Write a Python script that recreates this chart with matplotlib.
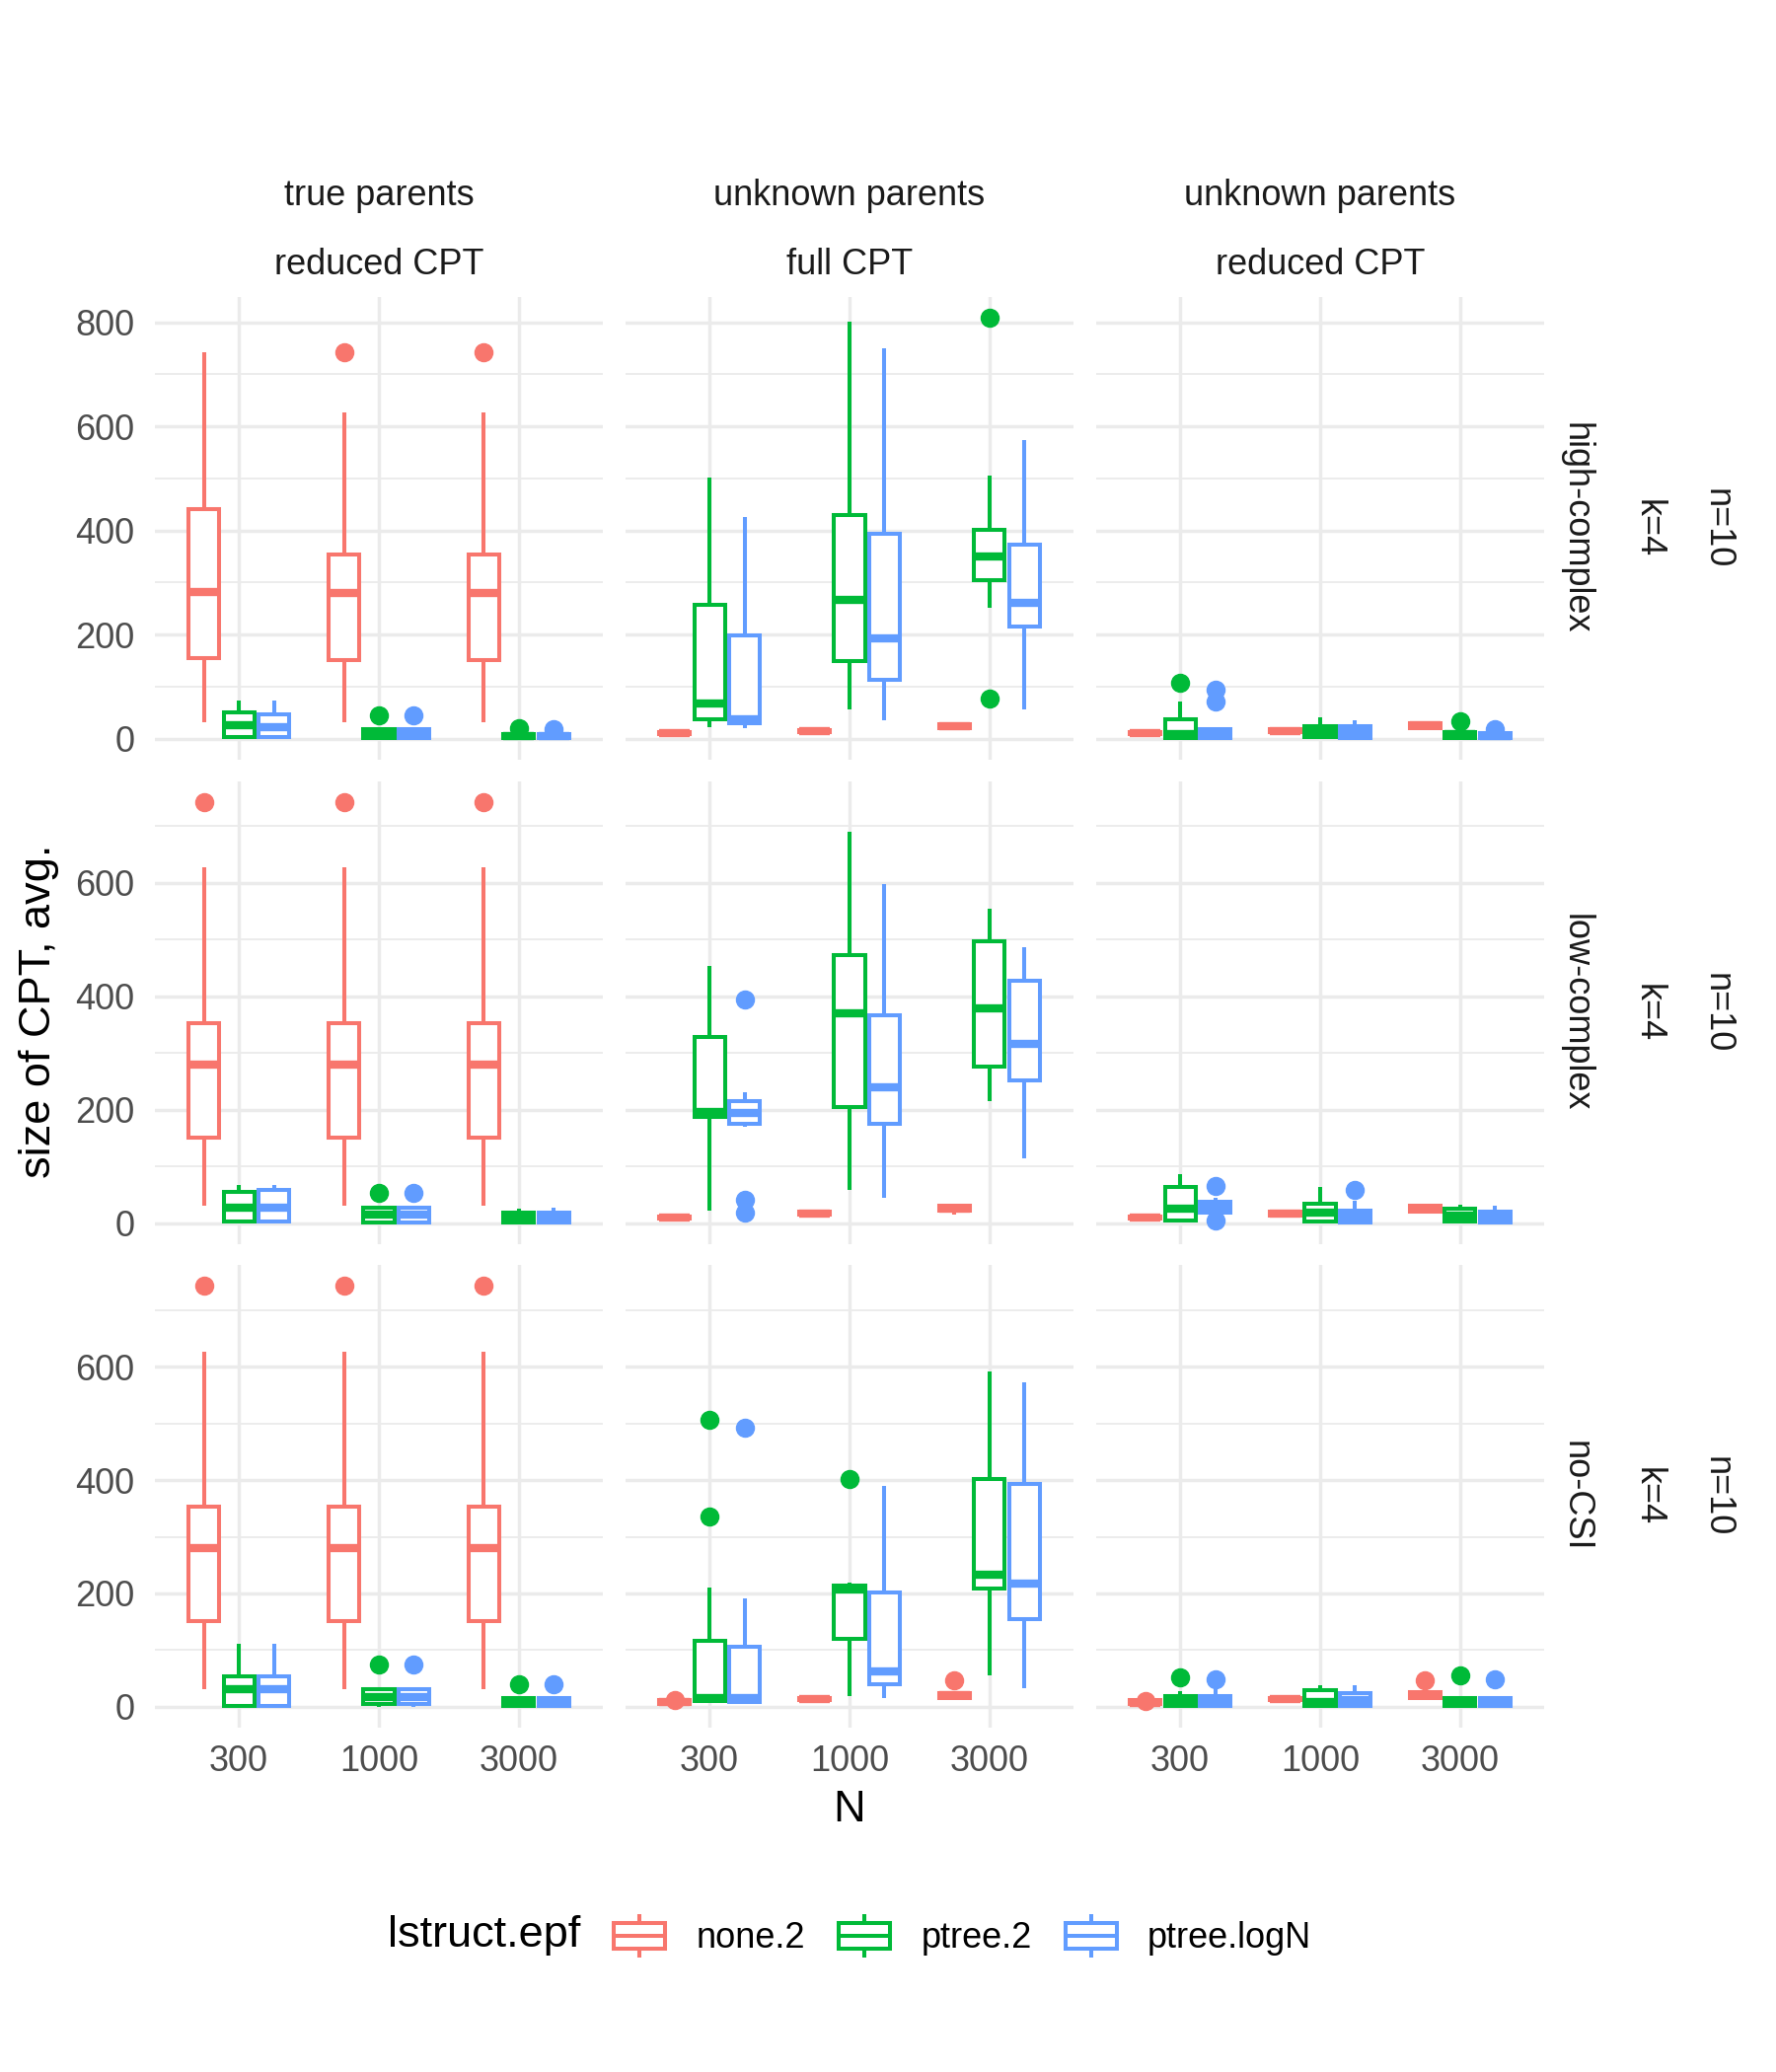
import numpy as np
import matplotlib.pyplot as plt
from matplotlib.legend_handler import HandlerBase
from matplotlib.patches import Patch, Rectangle
from matplotlib.lines import Line2D

plt.rcParams['font.family'] = ['Liberation Sans', 'DejaVu Sans']

# facet labels and categories
sizes = ['300', '1000', '3000']
groups = ['none.2', 'ptree.2', 'ptree.logN']
colors = ['#F8766D', '#00BA38', '#619CFF']
col_top = ['true parents', 'unknown parents', 'unknown parents']
col_bottom = ['reduced CPT', 'full CPT', 'reduced CPT']
row_labels = ['high-complex', 'low-complex', 'no-CSI']
row_k = ['k=4', 'k=4', 'k=4']
row_n = ['n=10', 'n=10', 'n=10']

# boxplot stats, indexed [row][col][N] -> (none.2, ptree.2, ptree.logN)
q1 = [
    [[[154, 4, 4], [151, 1, 1], [151, 1, 1]],
     [[8, 37, 29], [13, 149, 113], [21, 305, 215]],
     [[8, 2, 1], [13, 3, 2], [21, 2, 1]]],
    [[[151, 3, 3], [151, 2, 2], [151, 2, 2]],
     [[8, 188, 175], [15, 204, 175], [22, 277, 252]],
     [[8, 5, 19], [14, 3, 1], [21, 3, 1]]],
    [[[151, 2, 2], [151, 5, 5], [151, 1, 1]],
     [[5, 10, 9], [12, 119, 40], [16, 209, 155]],
     [[4, 1, 1], [12, 1, 1], [15, 2, 2]]],
]
med = [
    [[[282, 25, 23], [280, 8, 8], [280, 5, 5]],
     [[10, 68, 37], [15, 266, 193], [24, 350, 261]],
     [[10, 9, 8], [15, 12, 12], [25, 8, 5]]],
    [[[280, 28, 28], [280, 15, 15], [280, 10, 10]],
     [[10, 196, 195], [17, 370, 239], [26, 378, 316]],
     [[10, 25, 28], [16, 18, 12], [25, 14, 12]]],
    [[[280, 30, 30], [280, 17, 17], [280, 8, 8]],
     [[8, 15, 15], [14, 206, 62], [20, 233, 217]],
     [[7, 11, 11], [13, 8, 12], [20, 8, 8]]],
]
q3 = [
    [[[441, 50, 47], [353, 18, 18], [353, 9, 9]],
     [[12, 257, 198], [17, 429, 394], [28, 401, 372]],
     [[12, 37, 18], [18, 24, 24], [29, 12, 10]]],
    [[[353, 56, 58], [353, 28, 28], [353, 18, 18]],
     [[12, 329, 216], [20, 473, 367], [31, 497, 427]],
     [[12, 64, 38], [20, 34, 22], [30, 25, 20]]],
    [[[354, 53, 53], [354, 30, 30], [354, 15, 15]],
     [[11, 117, 105], [16, 214, 202], [24, 402, 393]],
     [[11, 19, 19], [16, 29, 24], [25, 15, 15]]],
]
whislo = [
    [[[32, 0, 0], [32, 0, 0], [32, 0, 0]],
     [[7, 23, 20], [12, 56, 35], [17, 252, 56]],
     [[7, 0, 0], [12, 0, 0], [18, 0, 0]]],
    [[[31, 0, 0], [31, 0, 0], [31, 0, 0]],
     [[7, 22, 170], [14, 59, 44], [15, 216, 114]],
     [[7, 2, 19], [12, 2, 0], [18, 2, 0]]],
    [[[31, 0, 0], [31, 0, 0], [31, 0, 0]],
     [[4, 10, 9], [11, 19, 15], [15, 56, 33]],
     [[3, 0, 0], [11, 0, 0], [12, 0, 0]]],
]
whishi = [
    [[[742, 73, 73], [626, 18, 18], [626, 10, 10]],
     [[13, 502, 425], [18, 801, 750], [29, 506, 574]],
     [[13, 72, 18], [19, 41, 36], [30, 12, 10]]],
    [[[627, 67, 67], [627, 30, 30], [627, 25, 27]],
     [[13, 453, 231], [21, 691, 598], [32, 554, 486]],
     [[13, 86, 45], [21, 64, 39], [31, 32, 30]]],
    [[[627, 111, 111], [627, 31, 31], [627, 16, 16]],
     [[12, 210, 192], [17, 219, 390], [25, 592, 572]],
     [[12, 27, 33], [17, 37, 37], [26, 19, 16]]],
]
fliers = [
    [[[[], [], []], [[742], [45], [45]], [[742], [20], [19]]],
     [[[], [], []], [[], [], []], [[], [808, 78], []]],
     [[[], [107], [94, 72]], [[], [], []], [[], [33], [19]]]],
    [[[[742], [], []], [[742], [54], [54]], [[742], [], []]],
     [[[], [], [395, 41, 18]], [[], [], []], [[], [], []]],
     [[[], [], [66, 4]], [[], [], [59]], [[], [], []]]],
    [[[[743], [], []], [[743], [75], [75]], [[743], [40], [40]]],
     [[[11], [506, 336], [492]], [[], [402], []], [[47], [], []]],
     [[[10], [51], [49]], [[], [], []], [[47], [56], [49]]]],
]

W, H = 1800, 2100
fig = plt.figure(figsize=(W / 100, H / 100), dpi=100)

panel_left = [157, 634, 1111]
panel_w = 454
panel_top = [301, 792, 1282]
panel_h = 469
grid_c = '#EBEBEB'
lw = 2.9


def fx(px):
    return px / W


def fy(py):
    return 1 - py / H


for r in range(3):
    # shared y range per row, 5% padding like ggplot
    vals = []
    for c in range(3):
        for i in range(3):
            for g in range(3):
                vals += [whislo[r][c][i][g], whishi[r][c][i][g]] + fliers[r][c][i][g]
    lo, hi = min(vals), max(vals)
    pad = 0.05 * (hi - lo)
    ytop = hi + pad

    for c in range(3):
        ax = fig.add_axes([fx(panel_left[c]), fy(panel_top[r] + panel_h),
                           fx(panel_w), panel_h / H])
        for g in range(3):
            stats = []
            for i in range(3):
                stats.append(dict(q1=q1[r][c][i][g], med=med[r][c][i][g],
                                  q3=q3[r][c][i][g], whislo=whislo[r][c][i][g],
                                  whishi=whishi[r][c][i][g],
                                  fliers=fliers[r][c][i][g]))
            col = colors[g]
            ax.bxp(stats, positions=np.arange(3) + (g - 1) * 0.25, widths=0.22,
                   showcaps=False, patch_artist=True, manage_ticks=False,
                   boxprops=dict(facecolor='white', edgecolor=col, linewidth=lw),
                   whiskerprops=dict(color=col, linewidth=lw, solid_capstyle='butt'),
                   medianprops=dict(color=col, linewidth=6, solid_capstyle='butt'),
                   flierprops=dict(marker='o', markerfacecolor=col,
                                   markeredgecolor=col, markersize=13,
                                   linestyle='none'))
        ax.set_xticks(range(3))
        ax.set_xticklabels(sizes)
        ax.set_yticks(np.arange(0, ytop, 200))
        ax.set_yticks(np.arange(100, ytop, 200), minor=True)
        ax.set_xlim(-0.6, 2.6)
        ax.set_ylim(lo - pad, ytop)
        ax.grid(which='major', color=grid_c, linewidth=2.5)
        ax.grid(which='minor', axis='y', color=grid_c, linewidth=1.3)
        ax.set_axisbelow(True)
        for s in ax.spines.values():
            s.set_visible(False)
        ax.tick_params(which='both', length=0, labelsize=26, labelcolor='#4D4D4D')
        ax.tick_params(axis='y', pad=15)
        ax.tick_params(axis='x', pad=12)
        if c > 0:
            ax.tick_params(axis='y', labelleft=False)
        if r < 2:
            ax.tick_params(axis='x', labelbottom=False)

# column strips
for c in range(3):
    xc = fx(panel_left[c] + panel_w / 2)
    fig.text(xc, fy(199), col_top[c], ha='center', va='center', fontsize=26, color='#1A1A1A')
    fig.text(xc, fy(268), col_bottom[c], ha='center', va='center', fontsize=26, color='#1A1A1A')

# row strips
for r in range(3):
    yc = fy(panel_top[r] + panel_h / 2)
    fig.text(fx(1597), yc, row_labels[r], rotation=-90, ha='center', va='center',
             fontsize=26, color='#1A1A1A')
    fig.text(fx(1670), yc, row_k[r], rotation=-90, ha='center', va='center',
             fontsize=26, color='#1A1A1A')
    fig.text(fx(1740), yc, row_n[r], rotation=-90, ha='center', va='center',
             fontsize=26, color='#1A1A1A')

# axis titles
fig.text(fx(40), fy(1025), 'size of CPT, avg.', rotation=90, ha='center', va='center',
         fontsize=32.5)
fig.text(fx(861), fy(1834), 'N', ha='center', va='center', fontsize=32.5)


class BoxKey(HandlerBase):
    def create_artists(self, legend, orig_handle, xdescent, ydescent,
                       width, height, fontsize, trans):
        col = orig_handle.get_edgecolor()
        x0, y0 = -xdescent, -ydescent
        xm = x0 + width / 2
        box = Rectangle((x0, y0 + 0.2 * height), width, 0.6 * height,
                        facecolor='white', edgecolor=col, lw=lw, transform=trans)
        w1 = Line2D([xm, xm], [y0, y0 + 0.2 * height], color=col, lw=lw,
                    solid_capstyle='butt', transform=trans)
        w2 = Line2D([xm, xm], [y0 + 0.8 * height, y0 + height], color=col, lw=lw,
                    solid_capstyle='butt', transform=trans)
        m = Line2D([x0, x0 + width], [y0 + 0.5 * height] * 2, color=col, lw=lw,
                   solid_capstyle='butt', transform=trans)
        return [w1, w2, box, m]


handles = [Patch(facecolor='white', edgecolor=colors[g]) for g in range(3)]
fig.text(fx(393), fy(1962), 'lstruct.epf', ha='left', va='center', fontsize=32.5)
fig.legend(handles, groups, handler_map={Patch: BoxKey()}, loc='center left',
           bbox_to_anchor=(fx(622), fy(1962)), ncol=3, frameon=False, fontsize=26,
           handlelength=1.45, handleheight=1.5, handletextpad=0.86,
           columnspacing=0.94, borderpad=0, borderaxespad=0)

fig.savefig('out.png', dpi=100, facecolor='white')
